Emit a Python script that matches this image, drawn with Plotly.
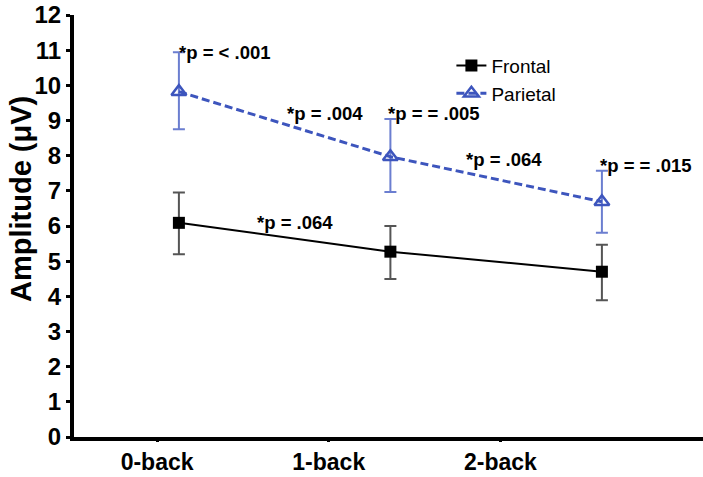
import plotly.graph_objects as go

categories = ["0-back", "1-back", "2-back"]
frontal = [6.09, 5.27, 4.70]
frontal_err_plus = [0.86, 0.73, 0.77]
frontal_err_minus = [0.89, 0.78, 0.81]
parietal = [9.82, 7.97, 6.69]
parietal_err_plus = [1.12, 1.07, 0.88]
parietal_err_minus = [1.07, 1.00, 0.88]
y_ticks = list(range(0, 13))

notes = ["*p = < .001", "*p = .004", "*p = = .005", "*p = .064", "*p = = .015", "*p = .064"]
note_x = [-0.01, 0.50, 0.98, 1.35, 1.98, 0.36]
note_y = [10.92, 9.21, 9.21, 7.90, 7.73, 6.11]

FONT = "Liberation Sans, Arial"

fig = go.Figure()
fig.add_trace(go.Scatter(
    x=categories, y=frontal, name="Frontal", mode="lines+markers",
    line=dict(color="black", width=2),
    marker=dict(symbol="square", size=12, color="black"),
    error_y=dict(type="data", array=frontal_err_plus, arrayminus=frontal_err_minus,
                 color="#555555", thickness=2, width=6),
))
fig.add_trace(go.Scatter(
    x=categories, y=parietal, name="Parietal", mode="lines+markers",
    line=dict(color="#3d55bd", width=3, dash="8px,4px"),
    marker=dict(symbol="triangle-up-open", size=13, color="#3d55bd", line=dict(width=2.5)),
    error_y=dict(type="data", array=parietal_err_plus, arrayminus=parietal_err_minus,
                 color="#6b7ed0", thickness=2, width=6),
))
# invisible helper trace for the tick-label axis
fig.add_trace(go.Scatter(x=categories, y=frontal, xaxis="x2", mode="none",
                         showlegend=False, hoverinfo="skip"))

for t, xx, yy in zip(notes, note_x, note_y):
    fig.add_annotation(x=xx, y=yy, xref="x", yref="y", text="<b>" + t + "</b>", showarrow=False,
                       xanchor="left", yanchor="middle",
                       font=dict(family=FONT, size=18.5, color="black"))

fig.add_annotation(x=0, xref="paper", xshift=-53, y=0.564, yref="paper",
                   text="<b>Amplitude (μV)</b>", textangle=-90, showarrow=False,
                   xanchor="center", yanchor="middle",
                   font=dict(family=FONT, size=29, color="black"))

fig.update_layout(
    width=703, height=477,
    margin=dict(l=74, r=0, t=15, b=40),
    paper_bgcolor="white", plot_bgcolor="white",
    showlegend=True,
    legend=dict(x=0.6, y=0.925, xanchor="left", yanchor="top",
                bgcolor="rgba(0,0,0,0)", itemwidth=30, tracegroupgap=0,
                font=dict(family=FONT, size=19, color="black")),
    xaxis=dict(type="category", range=[-0.496, 2.478], showline=True, linewidth=4,
               linecolor="black", showticklabels=False, ticks="", showgrid=False,
               zeroline=False, fixedrange=True),
    xaxis2=dict(type="category", overlaying="x", anchor="y", side="bottom",
                range=[-0.484, 3.18], showline=False, showgrid=False, zeroline=False,
                ticks="outside", ticklen=4, tickwidth=3, tickcolor="black",
                tickfont=dict(family=FONT, size=23, color="black", weight=700)),
    yaxis=dict(range=[0, 12], tickvals=y_ticks, ticktext=["<b>%d</b>" % v for v in y_ticks],
               showline=True, linewidth=4, linecolor="black",
               ticks="outside", ticklen=4, tickwidth=3, tickcolor="black", showgrid=False,
               zeroline=False,
               tickfont=dict(family=FONT, size=24, color="black", weight=700)),
)

fig.write_html("out.html")
